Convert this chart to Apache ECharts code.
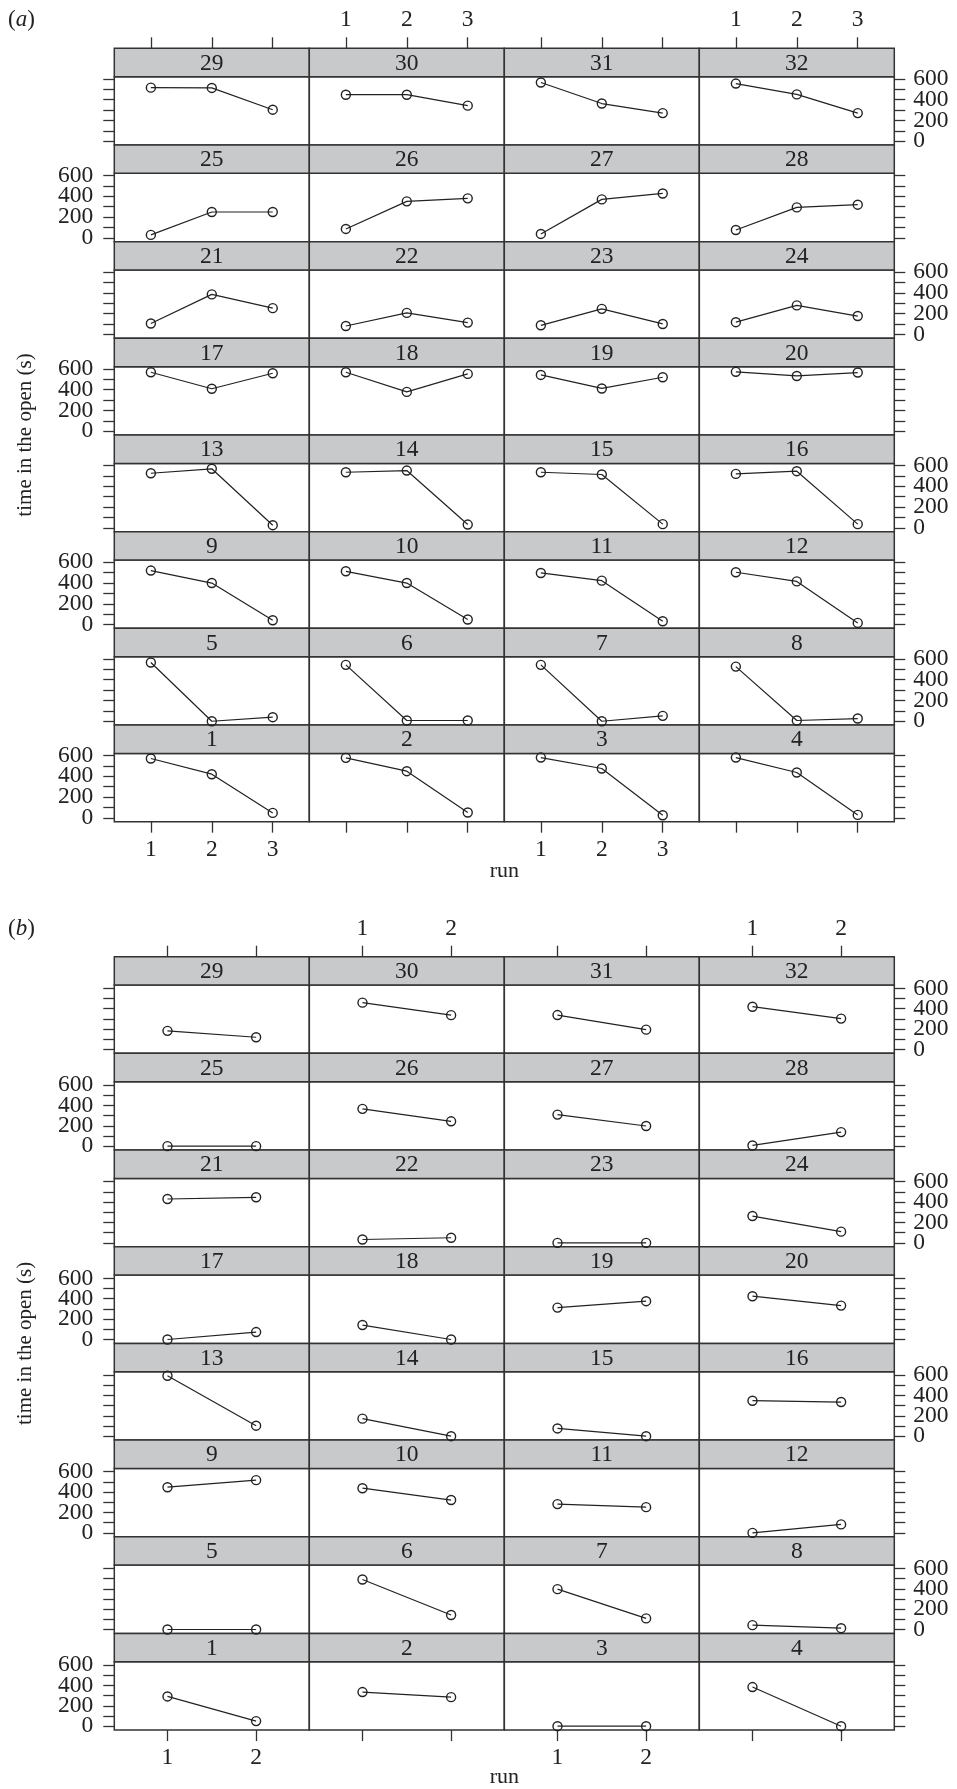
<!DOCTYPE html>
<html><head><meta charset="utf-8">
<script src="https://cdn.jsdelivr.net/npm/echarts@6/dist/echarts.min.js"></script>
<style>html,body{margin:0;padding:0;background:#fff}#c{width:957px;height:1789px}</style>
</head><body><div id="c"></div>
<script>
// ---------- DATA ----------
// individuals 1..32 (index 0 = individual 1)
const individuals = [1,2,3,4,5,6,7,8,9,10,11,12,13,14,15,16,17,18,19,20,21,22,23,24,25,26,27,28,29,30,31,32];
const runTicksA = [1, 2, 3];
const runTicksB = [1, 2];
const yTickValues = [0, 100, 200, 300, 400, 500, 600];
const yLabelsEven = [0, 400];
const yLabelsOdd = [200, 600];

// panel (a): time in the open (s), runs 1-3
const aRun1 = [571,577,580,580, 564,542,542,525, 519,512,496,503, 525,535,535,519, 567,567,541,571, 106,82,89,119, 29,86,38,76, 515,447,564,554];
const aRun2 = [420,449,475,436, 0,7,0,7, 399,399,422,415, 568,551,513,545, 408,378,411,531, 386,208,247,280, 249,351,370,293, 512,447,362,450];
const aRun3 = [48,52,26,29, 39,7,52,26, 42,49,32,16, 26,32,36,36, 557,551,519,564, 254,115,102,178, 249,380,427,319, 303,342,270,270];

// panel (b): time in the open (s), runs 1-2
const bRun1 = [292,335,0,384, 0,491,396,43, 448,438,282,0, 593,172,76,348, 0,142,313,425, 430,33,0,263, 0,366,310,7, 183,460,338,420];
const bRun2 = [50,285,0,0, 0,142,109,13, 517,322,252,83, 103,0,0,335, 73,0,376,333, 447,50,0,110, 0,244,198,138, 120,337,195,303];

// ---------- LAYOUT ----------
const FONT = 'Liberation Serif';
const INK = '#222';
const FRAME = '#333';
const STRIP = '#c8c9cb';
const LEFT = 114.3, COLW = 195, ROWH = 96.67, STRIPH = 28.4;
const LABEL_FS = 23.5;

const option = {
  animation: false,
  backgroundColor: '#fff',
  grid: [], xAxis: [], yAxis: [], series: [], graphic: []
};

function addPanel(top, runs, runCols, yMin, yMax, tag, tagY, runY) {
  individuals.forEach((id, k) => {
    const c = k % 4, rb = Math.floor(k / 4), r = 7 - rb;
    const gi = option.grid.length;
    const gx = LEFT + c * COLW, gy = top + r * ROWH;
    option.grid.push({
      left: gx, top: gy + STRIPH, width: COLW, height: ROWH - STRIPH,
      show: true, borderColor: FRAME, borderWidth: 1.5, backgroundColor: 'transparent'
    });
    const isTop = r === 0, isBottom = r === 7;
    option.xAxis.push({
      gridIndex: gi, type: 'value', min: 0.4, max: runs.length + 0.6,
      position: isTop ? 'top' : 'bottom', offset: isTop ? STRIPH : 0,
      axisLine: { show: false, onZero: false }, splitLine: { show: false },
      axisTick: { show: isTop || isBottom, inside: false, length: 11,
        lineStyle: { color: FRAME, width: 1.3 }, customValues: runs },
      axisLabel: { show: (isTop && c % 2 === 1) || (isBottom && c % 2 === 0),
        customValues: runs, margin: 16, fontFamily: FONT, fontSize: LABEL_FS, color: INK,
        hideOverlap: false }
    });
    const leftSide = c === 0, rightSide = c === 3;
    const labelLeft = rb % 2 === 0;
    const hasLabels = (leftSide && labelLeft) || (rightSide && !labelLeft);
    const yi = option.yAxis.length;
    const yBase = {
      gridIndex: gi, type: 'value', min: yMin, max: yMax,
      position: rightSide ? 'right' : 'left',
      axisLine: { show: false, onZero: false }, splitLine: { show: false }
    };
    option.yAxis.push(Object.assign({}, yBase, {
      axisTick: { show: leftSide || rightSide, inside: false, length: 11,
        lineStyle: { color: FRAME, width: 1.3 }, customValues: yTickValues },
      axisLabel: { show: hasLabels, customValues: yLabelsEven, margin: leftSide ? 21 : 19,
        fontFamily: FONT, fontSize: LABEL_FS, color: INK, hideOverlap: false,
        showMinLabel: true, showMaxLabel: true }
    }));
    if (hasLabels) {
      option.yAxis.push(Object.assign({}, yBase, {
        axisTick: { show: false },
        axisLabel: { show: true, customValues: yLabelsOdd, margin: leftSide ? 21 : 19,
          fontFamily: FONT, fontSize: LABEL_FS, color: INK, hideOverlap: false,
          showMinLabel: true, showMaxLabel: true }
      }));
    }
    option.series.push({
      type: 'line', xAxisIndex: gi, yAxisIndex: yi, clip: false,
      data: runs.map((run, j) => [run, runCols[j][k]]),
      symbol: 'circle', symbolSize: 9, z: 3,
      lineStyle: { color: INK, width: 1.2 },
      itemStyle: { color: 'rgba(0,0,0,0)', borderColor: INK, borderWidth: 1.4 }
    });
    option.graphic.push({
      type: 'rect', z: 1,
      shape: { x: gx, y: gy, width: COLW, height: STRIPH },
      style: { fill: STRIP, stroke: FRAME, lineWidth: 1.5 }
    });
    option.graphic.push({
      type: 'text', z: 2, x: gx + COLW / 2, y: gy + STRIPH / 2 + 1,
      style: { text: String(id), fontFamily: FONT, fontSize: 23.5, fill: INK,
        align: 'center', verticalAlign: 'middle', textAlign: 'center', textVerticalAlign: 'middle' }
    });
  });
  // panel tag
  option.graphic.push({
    type: 'text', z: 2, x: 8, y: tagY,
    style: { text: '{n|(}{i|' + tag + '}{n|)}', verticalAlign: 'middle', textVerticalAlign: 'middle',
      rich: { n: { fontFamily: FONT, fontSize: 23, fill: INK, color: INK },
              i: { fontFamily: FONT, fontSize: 23, fontStyle: 'italic', fill: INK, color: INK } } }
  });
  // y title
  option.graphic.push({
    type: 'text', z: 2, x: 25, y: top + 4 * ROWH, rotation: Math.PI / 2,
    style: { text: 'time in the open (s)', fontFamily: FONT, fontSize: 21, fill: INK,
      align: 'center', verticalAlign: 'middle', textAlign: 'center', textVerticalAlign: 'middle' }
  });
  // x title
  option.graphic.push({
    type: 'text', z: 2, x: LEFT + 2 * COLW, y: runY,
    style: { text: 'run', fontFamily: FONT, fontSize: 22, fill: INK,
      align: 'center', verticalAlign: 'middle', textAlign: 'center', textVerticalAlign: 'middle' }
  });
}

addPanel(48.3, runTicksA, [aRun1, aRun2, aRun3], -36, 620, 'a', 20, 871);
addPanel(956.7, runTicksB, [bRun1, bRun2], -38, 632, 'b', 929, 1777);

const chart = echarts.init(document.getElementById('c'), null, { renderer: 'canvas' });
chart.setOption(option);
</script>
</body></html>
